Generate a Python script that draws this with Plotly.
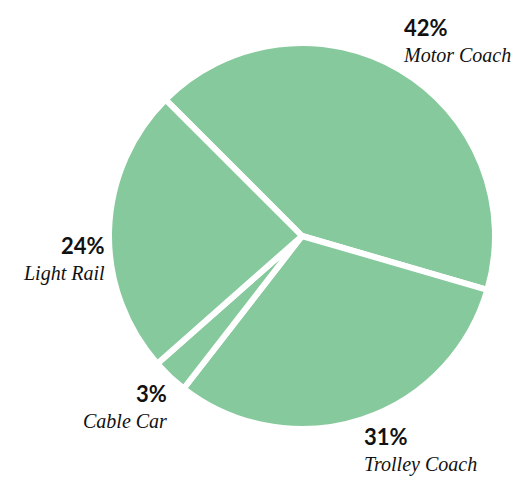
import numpy as np
import plotly.graph_objects as go

# ---- data ----
categories = ["Motor Coach", "Trolley Coach", "Cable Car", "Light Rail"]
shares = [42, 31, 3, 24]

# ---- layout constants ----
W, H = 514, 483
R = 193            # pie radius in px
CX, CY = 302, 236  # pie centre in px (from top-left)
START_DEG = -45    # first slice starts at 10:30
GREEN = "#86C99D"
LABEL_R = 1.01 * R

dom_x = [(CX - R) / W, (CX + R) / W]
dom_y = [1 - (CY + R) / H, 1 - (CY - R) / H]

fig = go.Figure(
    go.Pie(
        labels=categories,
        values=shares,
        sort=False,
        direction="clockwise",
        rotation=START_DEG,
        marker=dict(colors=[GREEN] * len(shares), line=dict(color="white", width=6)),
        textinfo="none",
        hoverinfo="label+percent",
        domain=dict(x=dom_x, y=dom_y),
        showlegend=False,
    )
)

vals = np.array(shares, dtype=float)
total = vals.sum()
cum = np.cumsum(vals) - vals / 2
annotations = []
for cat, v, c in zip(categories, vals, cum):
    phi = np.deg2rad(START_DEG + 360 * c / total)
    s, co = np.sin(phi), np.cos(phi)
    px = CX + LABEL_R * s
    py = CY - LABEL_R * co
    xanchor = "left" if s > 0 else "right"
    yanchor = "bottom" if co > 0.3 else "top"
    pct = int(round(100 * v / total))
    text = (
        f'<span style="font-family:Lato;font-weight:bold;font-style:normal;font-size:22px">{pct}%</span>'
        f'<br><i>{cat}</i>'
    )
    annotations.append(
        dict(
            x=px / W, y=1 - py / H, xref="paper", yref="paper",
            xanchor=xanchor, yanchor=yanchor, align=xanchor,
            text=text, showarrow=False,
            font=dict(family="Liberation Serif", size=20, color="#111111"),
        )
    )

fig.update_layout(
    width=W, height=H,
    margin=dict(l=0, r=0, t=0, b=0),
    paper_bgcolor="white", plot_bgcolor="white",
    annotations=annotations,
)

fig.write_html(
    "out.html",
    config={"displayModeBar": False},
    post_script="document.body.style.margin='0';",
)
